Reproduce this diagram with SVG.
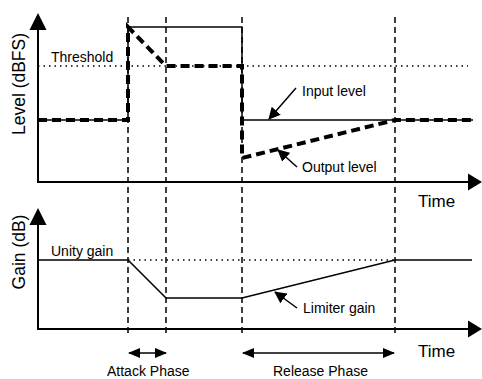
<svg xmlns="http://www.w3.org/2000/svg" width="482" height="379" viewBox="0 0 482 379">
<style>
.ax{stroke:#000;stroke-width:2;fill:none}
.sol{stroke:#000;stroke-width:1.5;fill:none}
.vd{stroke:#000;stroke-width:1.5;stroke-dasharray:6,4;fill:none}
.dot{stroke:#000;stroke-width:1.5;stroke-dasharray:1.5,4;fill:none}
.thick{stroke:#000;stroke-width:4;stroke-dasharray:9,5;fill:none}
.ptr{stroke:#000;stroke-width:1.5;fill:none;marker-end:url(#ph)}
.hd{fill:#000}
text{font-family:"Liberation Sans",Arial,sans-serif;fill:#000}
.lb{font-size:14px}
.big{font-size:17px}
.ylab{font-size:17.5px}
</style>
<defs>
<marker id="ph" viewBox="0 0 12 12" refX="11" refY="6" markerWidth="12" markerHeight="12" markerUnits="userSpaceOnUse" orient="auto">
<path d="M0,0 L12,6 L0,12 z" fill="#000"/>
</marker>
<marker id="dh" viewBox="0 0 12 12" refX="11" refY="6" markerWidth="12" markerHeight="12" markerUnits="userSpaceOnUse" orient="auto-start-reverse">
<path d="M0,1 L12,6 L0,11 z" fill="#000"/>
</marker>
</defs>
<g id="phase-lines">
<line class="vd" x1="128" y1="17" x2="128" y2="335"/>
<line class="vd" x1="166" y1="17" x2="166" y2="335"/>
<line class="vd" x1="242" y1="17" x2="242" y2="335"/>
<line class="vd" x1="395" y1="17" x2="395" y2="335"/>
</g>
<g id="level-axes">
<polyline class="ax" points="38,28 38,182 470,182"/>
<path class="hd" d="M38,13 L46.5,30 L29.5,30 z"/>
<path class="hd" d="M482,182 L468,173.5 L468,190.5 z"/>
<text class="ylab" transform="translate(25,84) rotate(-90)" text-anchor="middle">Level (dBFS)</text>
<text class="big" x="418" y="207">Time</text>
</g>
<g id="threshold">
<line class="dot" x1="38" y1="66" x2="468" y2="66"/>
<text class="lb" x="51" y="62">Threshold</text>
</g>
<g id="input-level">
<polyline class="sol" points="38,120 128,120 128,27 242,27 242,120 473,120"/>
<text class="lb" x="302" y="96">Input level</text>
</g>
<g id="output-level">
<polyline class="thick" points="38,120 128,120 128,27 166,66 242,66 242,158 395,120 473,120"/>
<text class="lb" x="302" y="172">Output level</text>
</g>
<g id="gain-axes">
<polyline class="ax" points="38,223 38,329 470,329"/>
<path class="hd" d="M38,208 L46.5,225 L29.5,225 z"/>
<path class="hd" d="M482,329 L468,320.5 L468,337.5 z"/>
<text class="ylab" transform="translate(25,252) rotate(-90)" text-anchor="middle">Gain (dB)</text>
<text class="big" x="418" y="357">Time</text>
</g>
<g id="unity-gain">
<line class="dot" x1="128" y1="260" x2="395" y2="260"/>
<text class="lb" x="51" y="256">Unity gain</text>
</g>
<g id="limiter-gain">
<polyline class="sol" points="38,260 128,260 166,298 242,298 395,260 472,260"/>
<text class="lb" x="303" y="313">Limiter gain</text>
</g>
<g id="attack-phase">
<line class="sol" x1="129" y1="353" x2="166" y2="353" marker-start="url(#dh)" marker-end="url(#dh)"/>
<text class="lb" x="107" y="376">Attack Phase</text>
</g>
<g id="release-phase">
<line class="sol" x1="243" y1="353" x2="394" y2="353" marker-start="url(#dh)" marker-end="url(#dh)"/>
<text class="lb" x="273" y="376">Release Phase</text>
</g>
<g id="connectors">
<line class="ptr" x1="296" y1="88" x2="269" y2="119"/>
<line class="ptr" x1="297" y1="167" x2="278" y2="150"/>
<line class="ptr" x1="297" y1="308" x2="275" y2="292"/>
</g>
</svg>
